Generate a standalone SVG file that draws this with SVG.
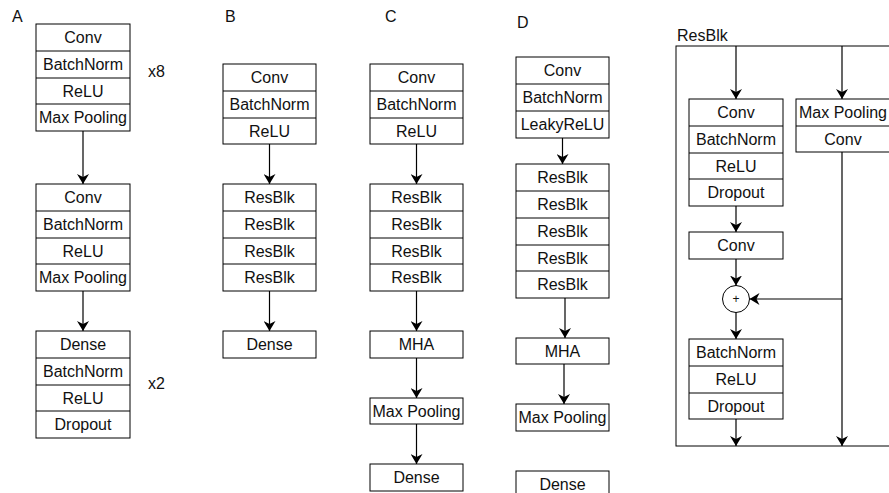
<svg xmlns="http://www.w3.org/2000/svg" width="889" height="493" viewBox="0 0 889 493">
<style>
.b{fill:#fff;stroke:#000;stroke-width:1}
.l{stroke:#000;stroke-width:1;fill:none}
.t{font-family:"Liberation Sans",Arial,sans-serif;font-size:16px;fill:#111;text-anchor:middle}
.p{font-family:"Liberation Sans",Arial,sans-serif;font-size:16px;fill:#111}
.c{stroke:#000;stroke-width:1.2;fill:none;marker-end:url(#a)}
</style>
<defs>
<marker id="a" markerUnits="userSpaceOnUse" markerWidth="10" markerHeight="12" viewBox="0 0 10 12" refX="10" refY="6" orient="auto">
<path d="M0,0 L10,6 L0,12 L3,6 z" fill="#000"/>
</marker>
</defs>
<rect width="889" height="493" fill="#fff"/>

<g id="labels">
<text class="p" x="12" y="22">A</text>
<text class="p" x="225" y="22">B</text>
<text class="p" x="385" y="22">C</text>
<text class="p" x="517" y="28">D</text>
<text class="p" x="148" y="77">x8</text>
<text class="p" x="148" y="389">x2</text>
</g>

<g id="A1">
<rect class="b" x="36" y="24" width="94" height="107"/>
<path class="l" d="M36 51H130M36 78H130M36 104H130"/>
<text class="t" x="83" y="43">Conv</text>
<text class="t" x="83" y="70">BatchNorm</text>
<text class="t" x="83" y="97">ReLU</text>
<text class="t" x="83" y="123">Max Pooling</text>
</g>
<g id="A2">
<rect class="b" x="36" y="184" width="94" height="107"/>
<path class="l" d="M36 211H130M36 238H130M36 264H130"/>
<text class="t" x="83" y="203">Conv</text>
<text class="t" x="83" y="230">BatchNorm</text>
<text class="t" x="83" y="257">ReLU</text>
<text class="t" x="83" y="283">Max Pooling</text>
</g>
<g id="A3">
<rect class="b" x="36" y="331" width="94" height="107"/>
<path class="l" d="M36 358H130M36 385H130M36 411H130"/>
<text class="t" x="83" y="350">Dense</text>
<text class="t" x="83" y="377">BatchNorm</text>
<text class="t" x="83" y="404">ReLU</text>
<text class="t" x="83" y="430">Dropout</text>
</g>

<g id="B1">
<rect class="b" x="223" y="64" width="93" height="80"/>
<path class="l" d="M223 91H316M223 118H316"/>
<text class="t" x="269.5" y="83">Conv</text>
<text class="t" x="269.5" y="110">BatchNorm</text>
<text class="t" x="269.5" y="137">ReLU</text>
</g>
<g id="B2">
<rect class="b" x="223" y="184" width="93" height="107"/>
<path class="l" d="M223 211H316M223 238H316M223 264H316"/>
<text class="t" x="269.5" y="203">ResBlk</text>
<text class="t" x="269.5" y="230">ResBlk</text>
<text class="t" x="269.5" y="257">ResBlk</text>
<text class="t" x="269.5" y="283">ResBlk</text>
</g>
<g id="B3">
<rect class="b" x="223" y="331" width="93" height="27"/>
<text class="t" x="269.5" y="350">Dense</text>
</g>

<g id="C1">
<rect class="b" x="370" y="64" width="93" height="80"/>
<path class="l" d="M370 91H463M370 118H463"/>
<text class="t" x="416.5" y="83">Conv</text>
<text class="t" x="416.5" y="110">BatchNorm</text>
<text class="t" x="416.5" y="137">ReLU</text>
</g>
<g id="C2">
<rect class="b" x="370" y="184" width="93" height="107"/>
<path class="l" d="M370 211H463M370 238H463M370 264H463"/>
<text class="t" x="416.5" y="203">ResBlk</text>
<text class="t" x="416.5" y="230">ResBlk</text>
<text class="t" x="416.5" y="257">ResBlk</text>
<text class="t" x="416.5" y="283">ResBlk</text>
</g>
<g id="C3">
<rect class="b" x="370" y="331" width="93" height="27"/>
<text class="t" x="416.5" y="350">MHA</text>
</g>
<g id="C4">
<rect class="b" x="370" y="398" width="93" height="26"/>
<text class="t" x="416.5" y="416.5">Max Pooling</text>
</g>
<g id="C5">
<rect class="b" x="370" y="464" width="93" height="27"/>
<text class="t" x="416.5" y="483">Dense</text>
</g>

<g id="D1">
<rect class="b" x="516" y="57" width="93" height="81"/>
<path class="l" d="M516 84H609M516 111H609"/>
<text class="t" x="562.5" y="76">Conv</text>
<text class="t" x="562.5" y="103">BatchNorm</text>
<text class="t" x="562.5" y="130">LeakyReLU</text>
</g>
<g id="D2">
<rect class="b" x="516" y="164" width="93" height="134"/>
<path class="l" d="M516 191H609M516 218H609M516 245H609M516 271H609"/>
<text class="t" x="562.5" y="183">ResBlk</text>
<text class="t" x="562.5" y="210">ResBlk</text>
<text class="t" x="562.5" y="237">ResBlk</text>
<text class="t" x="562.5" y="264">ResBlk</text>
<text class="t" x="562.5" y="290">ResBlk</text>
</g>
<g id="D3">
<rect class="b" x="516" y="338" width="93" height="26"/>
<text class="t" x="562.5" y="356.5">MHA</text>
</g>
<g id="D4">
<rect class="b" x="516" y="404" width="93" height="27"/>
<text class="t" x="562.5" y="423">Max Pooling</text>
</g>
<g id="D5">
<rect class="b" x="516" y="471" width="93" height="30"/>
<text class="t" x="562.5" y="490">Dense</text>
</g>

<g id="ResBlkFrame">
<rect class="b" x="676" y="46" width="230" height="400"/>
<text class="p" x="677" y="41">ResBlk</text>
</g>
<g id="R1">
<rect class="b" x="689" y="99" width="94" height="107"/>
<path class="l" d="M689 126H783M689 153H783M689 179H783"/>
<text class="t" x="736" y="118">Conv</text>
<text class="t" x="736" y="145">BatchNorm</text>
<text class="t" x="736" y="172">ReLU</text>
<text class="t" x="736" y="198">Dropout</text>
</g>
<g id="R2">
<rect class="b" x="796" y="99" width="94" height="53"/>
<path class="l" d="M796 126H890"/>
<text class="t" x="843" y="118">Max Pooling</text>
<text class="t" x="843" y="145">Conv</text>
</g>
<g id="R3">
<rect class="b" x="689" y="232" width="94" height="27"/>
<text class="t" x="736" y="251">Conv</text>
</g>
<g id="Rplus">
<circle class="b" cx="736" cy="299" r="13.5"/>
<text class="t" x="736" y="303" style="font-size:12px">+</text>
</g>
<g id="R4">
<rect class="b" x="689" y="339" width="94" height="80"/>
<path class="l" d="M689 366H783M689 393H783"/>
<text class="t" x="736" y="358">BatchNorm</text>
<text class="t" x="736" y="385">ReLU</text>
<text class="t" x="736" y="412">Dropout</text>
</g>

<g id="connectors">
<path class="c" d="M83 131V184"/>
<path class="c" d="M83 291V331"/>
<path class="c" d="M269.5 144V184"/>
<path class="c" d="M269.5 291V331"/>
<path class="c" d="M416.5 144V184"/>
<path class="c" d="M416.5 291V331"/>
<path class="c" d="M416.5 358V398"/>
<path class="c" d="M416.5 424V464"/>
<path class="c" d="M562.5 138V164"/>
<path class="c" d="M565 298V338"/>
<path class="c" d="M564 364V404"/>
<path class="c" d="M736 46V99"/>
<path class="c" d="M842 46V99"/>
<path class="c" d="M736 206V232"/>
<path class="c" d="M736 259V285.5"/>
<path class="c" d="M736 312.5V339"/>
<path class="c" d="M736 419V446"/>
<path class="c" d="M842 152V446"/>
<path class="c" d="M842 299H749.5"/>
</g>
</svg>
